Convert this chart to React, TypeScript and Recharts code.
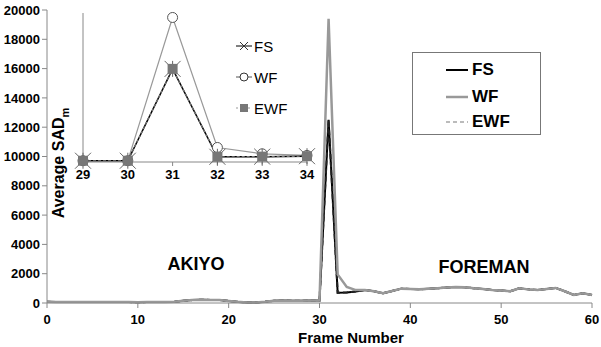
import React from "react"
import { LineChart, Line, XAxis, YAxis, Legend } from "recharts"

const frames = [
  0, 1, 2, 3, 4, 5, 6, 7, 8, 9, 10, 11, 12, 13, 14, 15, 16, 17, 18, 19, 20,
  21, 22, 23, 24, 25, 26, 27, 28, 29, 30, 31, 32, 33, 34, 35, 36, 37, 38, 39, 40,
  41, 42, 43, 44, 45, 46, 47, 48, 49, 50, 51, 52, 53, 54, 55, 56, 57, 58, 59, 60,
]

// average SAD per frame, AKIYO (0-30) then FOREMAN (31-60)
const fsValues = [
  80, 70, 70, 60, 60, 70, 60, 70, 60, 60, 50, 60, 70, 60, 80, 150, 200, 220, 210, 200, 140,
  80, 40, 40, 80, 150, 170, 160, 160, 170, 170, 12500, 700, 720, 780, 890, 800, 660, 820, 980, 960,
  935, 970, 1010, 1060, 1100, 1080, 1000, 950, 890, 850, 800, 1000, 930, 890, 960, 1030, 800, 550, 660, 550,
]
const wfValues = [
  80, 70, 70, 60, 60, 70, 60, 70, 60, 60, 50, 60, 70, 60, 80, 150, 200, 220, 210, 200, 140,
  80, 40, 40, 80, 150, 170, 160, 160, 170, 170, 19400, 1950, 1100, 880, 890, 800, 660, 820, 980, 960,
  935, 970, 1010, 1060, 1100, 1080, 1000, 950, 890, 850, 800, 1000, 930, 890, 960, 1030, 800, 550, 660, 550,
]
const ewfValues = [
  80, 70, 70, 60, 60, 70, 60, 70, 60, 60, 50, 60, 70, 60, 80, 150, 200, 220, 210, 200, 140,
  80, 40, 40, 80, 150, 170, 160, 160, 170, 170, 12500, 700, 720, 780, 890, 800, 660, 820, 980, 960,
  935, 970, 1010, 1060, 1100, 1080, 1000, 950, 890, 850, 800, 1000, 930, 890, 960, 1030, 800, 550, 660, 550,
]

const xTicks = [0, 10, 20, 30, 40, 50, 60]
const yTicks = [0, 2000, 4000, 6000, 8000, 10000, 12000, 14000, 16000, 18000, 20000]
const insetXTicks = [29, 30, 31, 32, 33, 34]
const insetYTicks = [0, 5000, 10000, 15000, 20000]
const seriesNames = ["FS", "WF", "EWF"]

const data = frames.map((frame, i) => ({
  frame,
  fs: fsValues[i],
  wf: wfValues[i],
  ewf: ewfValues[i],
}))
const insetData = data.filter((d) => d.frame >= 29 && d.frame <= 34)

const font = 'Arial, "Liberation Sans", sans-serif'
const tickStyle = { fontSize: 13, fontWeight: "bold", fill: "#000", fontFamily: font }

const StarDot = (props: any) => {
  const { cx, cy } = props
  const r = 8
  return (
    <g stroke="#666" strokeWidth={1}>
      <line x1={cx - r} y1={cy - r} x2={cx + r} y2={cy + r} />
      <line x1={cx - r} y1={cy + r} x2={cx + r} y2={cy - r} />
      <line x1={cx} y1={cy - r} x2={cx} y2={cy + r} />
    </g>
  )
}

const CircleDot = (props: any) => {
  const { cx, cy } = props
  return <circle cx={cx} cy={cy} r={5} fill="#fff" stroke="#555" strokeWidth={1} />
}

const SquareDot = (props: any) => {
  const { cx, cy } = props
  return <rect x={cx - 5} y={cy - 5} width={10} height={10} fill="#777" />
}

const MainLegend = () => {
  const rows = [17, 44, 69]
  const samples = [
    { stroke: "#000", width: 2, dash: undefined },
    { stroke: "#999", width: 2.5, dash: undefined },
    { stroke: "#bbb", width: 2, dash: "4 3" },
  ]
  return (
    <div
      style={{
        position: "relative",
        width: 129,
        height: 83,
        border: "1px solid #777",
        boxSizing: "border-box",
        background: "#fff",
        fontFamily: font,
        fontWeight: "bold",
        fontSize: 17,
      }}
    >
      {seriesNames.map((name, i) => (
        <div
          key={name}
          style={{ position: "absolute", left: 33, top: rows[i] - 12, height: 24, display: "flex", alignItems: "center" }}
        >
          <svg width={22} height={6} style={{ marginRight: 4 }}>
            <line x1={0} y1={3} x2={22} y2={3} stroke={samples[i].stroke} strokeWidth={samples[i].width} strokeDasharray={samples[i].dash} />
          </svg>
          <span>{name}</span>
        </div>
      ))}
    </div>
  )
}

const InsetLegend = () => {
  const rows = [43, 74, 105]
  return (
    <div style={{ position: "relative", width: 80, height: 120, fontFamily: font, fontSize: 15 }}>
      {seriesNames.map((name, i) => (
        <div
          key={name}
          style={{ position: "absolute", left: 0, top: rows[i] - 10, height: 20, display: "flex", alignItems: "center" }}
        >
          <svg width={16} height={20} style={{ marginRight: 2 }}>
            {i === 0 && (
              <g>
                <line x1={0} y1={10} x2={16} y2={10} stroke="#000" strokeWidth={1} />
                <line x1={4} y1={6} x2={12} y2={14} stroke="#333" />
                <line x1={4} y1={14} x2={12} y2={6} stroke="#333" />
              </g>
            )}
            {i === 1 && (
              <g>
                <line x1={0} y1={10} x2={16} y2={10} stroke="#555" strokeWidth={1} />
                <circle cx={8} cy={10} r={4} fill="#fff" stroke="#333" />
              </g>
            )}
            {i === 2 && (
              <g>
                <line x1={0} y1={10} x2={16} y2={10} stroke="#999" strokeWidth={1} strokeDasharray="2 2" />
                <rect x={4} y={6} width={8} height={8} fill="#777" />
              </g>
            )}
          </svg>
          <span>{name}</span>
        </div>
      ))}
    </div>
  )
}

const textStyle: React.CSSProperties = {
  position: "absolute",
  transform: "translate(-50%, -50%)",
  fontFamily: font,
  fontWeight: "bold",
  whiteSpace: "nowrap",
  lineHeight: 1,
  color: "#000",
}

export default function App() {
  return (
    <div style={{ position: "absolute", left: 0, top: 0, width: 601, height: 347, background: "#fff", overflow: "hidden" }}>
      <LineChart width={601} height={347} data={data} margin={{ top: 10, right: 9, left: 0, bottom: 14 }}>
        <XAxis
          dataKey="frame"
          type="number"
          domain={[0, 60]}
          ticks={xTicks}
          height={30}
          stroke="#888"
          tickSize={5}
          tickMargin={7}
          tick={tickStyle}
        />
        <YAxis type="number" domain={[0, 20000]} ticks={yTicks} width={47} stroke="#888" tickSize={5} tickMargin={2} tick={tickStyle} />
        <Legend
          layout="horizontal"
          verticalAlign="middle"
          align="center"
          content={MainLegend}
          wrapperStyle={{ left: 412, top: 52, width: 129, height: 83 }}
        />
        <Line dataKey="fs" name="FS" stroke="#000" strokeWidth={2} dot={false} isAnimationActive={false} />
        <Line dataKey="ewf" name="EWF" stroke="#222" strokeWidth={2} strokeDasharray="5 3" dot={false} isAnimationActive={false} />
        <Line dataKey="wf" name="WF" stroke="#999" strokeWidth={2.5} dot={false} isAnimationActive={false} />
      </LineChart>

      <div style={{ position: "absolute", left: 60, top: 3 }}>
        <LineChart width={260} height={190} data={insetData} margin={{ top: 10, right: 13, left: 0, bottom: 6 }}>
          <XAxis
            dataKey="frame"
            type="number"
            domain={[29, 34]}
            ticks={insetXTicks}
            height={25}
            stroke="#888"
            tickSize={4}
            tickMargin={4}
            tick={tickStyle}
          />
          <YAxis type="number" domain={[0, 20000]} ticks={insetYTicks} width={23} stroke="#888" tickSize={4} tick={false} />
          <Legend
            layout="horizontal"
            verticalAlign="middle"
            align="center"
            content={InsetLegend}
            wrapperStyle={{ left: 176, top: 0, width: 80, height: 120 }}
          />
          <Line
            dataKey="wf"
            name="WF"
            stroke="#999"
            strokeWidth={1.2}
            dot={(p: any) => <CircleDot key={`wf-${p.index}`} {...p} />}
            isAnimationActive={false}
          />
          <Line
            dataKey="fs"
            name="FS"
            stroke="#000"
            strokeWidth={1.5}
            dot={(p: any) => <StarDot key={`fs-${p.index}`} {...p} />}
            isAnimationActive={false}
          />
          <Line
            dataKey="ewf"
            name="EWF"
            stroke="#777"
            strokeWidth={1.2}
            strokeDasharray="3 2"
            dot={(p: any) => <SquareDot key={`ewf-${p.index}`} {...p} />}
            isAnimationActive={false}
          />
        </LineChart>
      </div>

      <div style={{ ...textStyle, left: 61, top: 163, fontSize: 16, transform: "translate(-50%, -50%) rotate(-90deg)" }}>
        Average SAD<sub style={{ fontSize: 11 }}>m</sub>
      </div>
      <div style={{ ...textStyle, left: 351, top: 337, fontSize: 15 }}>Frame Number</div>
      <div style={{ ...textStyle, left: 196, top: 264, fontSize: 18 }}>AKIYO</div>
      <div style={{ ...textStyle, left: 484, top: 267, fontSize: 18 }}>FOREMAN</div>
    </div>
  )
}
